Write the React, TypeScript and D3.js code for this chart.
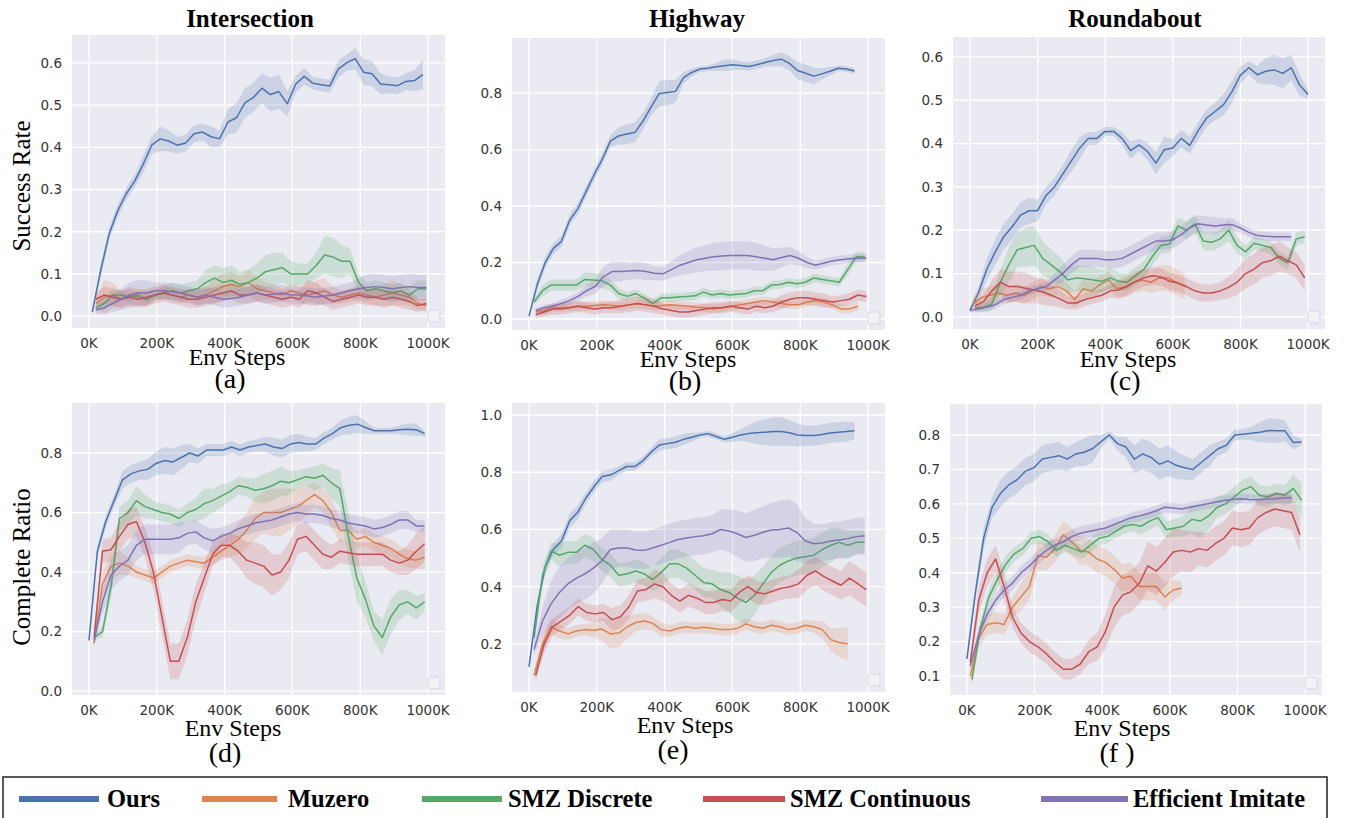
import React, { useEffect, useRef } from 'react';
import * as d3 from 'd3';

const methods = ['Ours', 'Muzero', 'SMZ Discrete', 'SMZ Continuous', 'Efficient Imitate'];
const colors = ['#4C72B0', '#DD8452', '#55A868', '#C44E52', '#8172B3'];
const xTicks = [0, 200, 400, 600, 800, 1000];
const xTickLabels = ['0K', '200K', '400K', '600K', '800K', '1000K'];

// ---- (a) Intersection, success rate ----
const aYTicks = [0, 0.1, 0.2, 0.3, 0.4, 0.5, 0.6];
const aOurs = [0.01, 0.11, 0.196, 0.25, 0.29, 0.32, 0.36, 0.405, 0.42, 0.415, 0.405, 0.41, 0.432, 0.436, 0.425, 0.42, 0.46, 0.47, 0.505, 0.518, 0.54, 0.525, 0.532, 0.503, 0.55, 0.568, 0.552, 0.548, 0.545, 0.585, 0.6, 0.61, 0.578, 0.574, 0.55, 0.548, 0.546, 0.556, 0.558, 0.572];
const aOursBand = [0.005, 0.015, 0.015, 0.015, 0.015, 0.015, 0.02, 0.02, 0.03, 0.025, 0.02, 0.02, 0.02, 0.02, 0.025, 0.02, 0.03, 0.035, 0.035, 0.035, 0.035, 0.04, 0.04, 0.03, 0.02, 0.02, 0.015, 0.015, 0.015, 0.02, 0.02, 0.025, 0.03, 0.03, 0.025, 0.02, 0.02, 0.02, 0.025, 0.035];
const aMuzero = [0.03, 0.045, 0.05, 0.04, 0.05, 0.045, 0.04, 0.05, 0.055, 0.05, 0.045, 0.05, 0.045, 0.05, 0.06, 0.07, 0.075, 0.07, 0.08, 0.065, 0.06, 0.055, 0.05, 0.06, 0.055, 0.05, 0.055, 0.06, 0.05, 0.045, 0.05, 0.055, 0.05, 0.045, 0.05, 0.055, 0.05, 0.045, 0.03, 0.025];
const aMuzeroBand = [0.01, 0.04, 0.03, 0.02, 0.02, 0.02, 0.02, 0.015, 0.015, 0.015, 0.015, 0.015, 0.02, 0.02, 0.03, 0.03, 0.03, 0.025, 0.03, 0.03, 0.02, 0.02, 0.015, 0.015, 0.02, 0.025, 0.03, 0.03, 0.02, 0.015, 0.015, 0.02, 0.02, 0.02, 0.025, 0.03, 0.025, 0.02, 0.015, 0.015];
const aDiscrete = [0.02, 0.03, 0.05, 0.05, 0.045, 0.05, 0.04, 0.05, 0.055, 0.06, 0.055, 0.06, 0.065, 0.08, 0.09, 0.08, 0.085, 0.075, 0.08, 0.09, 0.105, 0.11, 0.115, 0.1, 0.1, 0.1, 0.12, 0.145, 0.14, 0.13, 0.13, 0.08, 0.06, 0.065, 0.06, 0.055, 0.06, 0.05, 0.065, 0.065];
const aDiscreteBand = [0.01, 0.015, 0.015, 0.01, 0.01, 0.01, 0.01, 0.01, 0.015, 0.02, 0.02, 0.02, 0.02, 0.03, 0.03, 0.035, 0.035, 0.03, 0.03, 0.035, 0.04, 0.04, 0.035, 0.03, 0.025, 0.025, 0.03, 0.045, 0.045, 0.04, 0.03, 0.02, 0.02, 0.02, 0.02, 0.02, 0.02, 0.02, 0.02, 0.02];
const aContinuous = [0.04, 0.05, 0.045, 0.04, 0.045, 0.04, 0.045, 0.05, 0.055, 0.05, 0.045, 0.04, 0.04, 0.045, 0.05, 0.055, 0.06, 0.05, 0.05, 0.055, 0.05, 0.045, 0.04, 0.045, 0.04, 0.06, 0.055, 0.045, 0.035, 0.04, 0.045, 0.05, 0.045, 0.045, 0.04, 0.045, 0.04, 0.035, 0.025, 0.03];
const aContinuousBand = [0.015, 0.02, 0.02, 0.02, 0.02, 0.02, 0.02, 0.02, 0.02, 0.02, 0.02, 0.02, 0.02, 0.02, 0.02, 0.02, 0.02, 0.02, 0.02, 0.02, 0.02, 0.02, 0.02, 0.02, 0.02, 0.025, 0.025, 0.02, 0.02, 0.02, 0.02, 0.02, 0.02, 0.02, 0.02, 0.02, 0.02, 0.02, 0.015, 0.015];
const aImitate = [0.015, 0.02, 0.03, 0.04, 0.05, 0.055, 0.055, 0.06, 0.06, 0.058, 0.055, 0.05, 0.045, 0.05, 0.045, 0.04, 0.042, 0.045, 0.05, 0.055, 0.05, 0.052, 0.055, 0.05, 0.05, 0.048, 0.045, 0.048, 0.05, 0.055, 0.06, 0.065, 0.068, 0.07, 0.068, 0.065, 0.068, 0.07, 0.068, 0.068];
const aImitateBand = [0.01, 0.015, 0.02, 0.025, 0.03, 0.03, 0.03, 0.02, 0.02, 0.02, 0.02, 0.02, 0.02, 0.02, 0.02, 0.02, 0.02, 0.02, 0.02, 0.02, 0.02, 0.02, 0.02, 0.02, 0.02, 0.02, 0.02, 0.02, 0.02, 0.02, 0.02, 0.025, 0.03, 0.03, 0.03, 0.03, 0.03, 0.03, 0.03, 0.03];

// ---- (b) Highway, success rate ----
const bYTicks = [0, 0.2, 0.4, 0.6, 0.8];
const bOurs = [0.01, 0.12, 0.2, 0.25, 0.275, 0.35, 0.39, 0.45, 0.51, 0.565, 0.63, 0.648, 0.655, 0.66, 0.7, 0.75, 0.798, 0.802, 0.806, 0.855, 0.873, 0.885, 0.888, 0.893, 0.897, 0.9, 0.898, 0.894, 0.9, 0.908, 0.915, 0.92, 0.905, 0.88, 0.87, 0.86, 0.868, 0.877, 0.888, 0.885, 0.878];
const bOursBand = [0.005, 0.02, 0.02, 0.02, 0.02, 0.02, 0.02, 0.02, 0.02, 0.02, 0.02, 0.03, 0.035, 0.035, 0.03, 0.03, 0.045, 0.045, 0.04, 0.02, 0.015, 0.01, 0.01, 0.015, 0.02, 0.02, 0.015, 0.015, 0.015, 0.015, 0.02, 0.025, 0.025, 0.03, 0.03, 0.03, 0.02, 0.015, 0.01, 0.01, 0.01];
const bMuzero = [0.025, 0.03, 0.04, 0.04, 0.042, 0.045, 0.045, 0.048, 0.05, 0.048, 0.045, 0.05, 0.055, 0.05, 0.045, 0.048, 0.05, 0.048, 0.045, 0.042, 0.04, 0.035, 0.04, 0.045, 0.05, 0.055, 0.06, 0.065, 0.06, 0.055, 0.05, 0.05, 0.06, 0.065, 0.06, 0.05, 0.035, 0.035, 0.045];
const bMuzeroBand = [0.01, 0.015, 0.015, 0.015, 0.015, 0.015, 0.015, 0.015, 0.015, 0.015, 0.015, 0.015, 0.015, 0.015, 0.015, 0.015, 0.015, 0.015, 0.015, 0.015, 0.015, 0.015, 0.015, 0.015, 0.015, 0.015, 0.015, 0.015, 0.015, 0.015, 0.015, 0.015, 0.015, 0.015, 0.015, 0.015, 0.015, 0.015, 0.015];
const bDiscrete = [0.06, 0.1, 0.12, 0.12, 0.12, 0.12, 0.14, 0.138, 0.135, 0.12, 0.09, 0.08, 0.09, 0.075, 0.055, 0.075, 0.075, 0.078, 0.08, 0.082, 0.095, 0.085, 0.09, 0.085, 0.088, 0.09, 0.1, 0.1, 0.12, 0.122, 0.13, 0.125, 0.13, 0.145, 0.14, 0.135, 0.13, 0.175, 0.22, 0.22];
const bDiscreteBand = [0.01, 0.02, 0.02, 0.02, 0.02, 0.02, 0.025, 0.025, 0.025, 0.02, 0.02, 0.015, 0.015, 0.015, 0.015, 0.015, 0.015, 0.015, 0.015, 0.015, 0.015, 0.015, 0.015, 0.015, 0.015, 0.015, 0.015, 0.015, 0.015, 0.015, 0.015, 0.015, 0.015, 0.015, 0.015, 0.015, 0.015, 0.02, 0.02, 0.015];
const bContinuous = [0.015, 0.025, 0.035, 0.035, 0.04, 0.045, 0.04, 0.035, 0.04, 0.04, 0.045, 0.05, 0.055, 0.05, 0.045, 0.035, 0.03, 0.025, 0.025, 0.03, 0.035, 0.04, 0.04, 0.045, 0.04, 0.035, 0.045, 0.04, 0.045, 0.06, 0.07, 0.075, 0.075, 0.07, 0.065, 0.06, 0.065, 0.07, 0.085, 0.08];
const bContinuousBand = [0.01, 0.015, 0.02, 0.02, 0.02, 0.02, 0.02, 0.02, 0.02, 0.02, 0.025, 0.025, 0.025, 0.025, 0.025, 0.02, 0.02, 0.02, 0.02, 0.02, 0.02, 0.02, 0.02, 0.02, 0.02, 0.02, 0.02, 0.02, 0.02, 0.025, 0.025, 0.025, 0.025, 0.025, 0.025, 0.02, 0.02, 0.02, 0.02, 0.02];
const bImitate = [0.03, 0.04, 0.045, 0.055, 0.065, 0.08, 0.1, 0.115, 0.15, 0.168, 0.168, 0.17, 0.172, 0.168, 0.162, 0.16, 0.175, 0.19, 0.2, 0.21, 0.215, 0.22, 0.223, 0.225, 0.225, 0.225, 0.22, 0.215, 0.21, 0.218, 0.225, 0.215, 0.2, 0.19, 0.198, 0.205, 0.21, 0.213, 0.215, 0.215];
const bImitateBand = [0.01, 0.01, 0.01, 0.015, 0.015, 0.015, 0.02, 0.025, 0.035, 0.035, 0.035, 0.03, 0.03, 0.03, 0.025, 0.025, 0.03, 0.035, 0.04, 0.045, 0.045, 0.05, 0.05, 0.05, 0.05, 0.05, 0.05, 0.045, 0.04, 0.035, 0.03, 0.025, 0.02, 0.015, 0.015, 0.015, 0.015, 0.015, 0.015, 0.015];

// ---- (c) Roundabout, success rate ----
const cYTicks = [0, 0.1, 0.2, 0.3, 0.4, 0.5, 0.6];
const cOurs = [0.015, 0.055, 0.11, 0.15, 0.185, 0.208, 0.235, 0.245, 0.245, 0.28, 0.3, 0.33, 0.36, 0.39, 0.412, 0.412, 0.428, 0.428, 0.412, 0.384, 0.397, 0.382, 0.355, 0.386, 0.39, 0.412, 0.396, 0.43, 0.459, 0.474, 0.49, 0.52, 0.558, 0.575, 0.559, 0.567, 0.57, 0.562, 0.575, 0.535, 0.513];
const cOursBand = [0.005, 0.015, 0.025, 0.03, 0.03, 0.03, 0.03, 0.03, 0.025, 0.02, 0.02, 0.02, 0.025, 0.025, 0.015, 0.015, 0.01, 0.01, 0.015, 0.02, 0.015, 0.02, 0.025, 0.03, 0.02, 0.02, 0.02, 0.02, 0.02, 0.02, 0.025, 0.025, 0.02, 0.015, 0.02, 0.03, 0.035, 0.035, 0.03, 0.025, 0.01];
const cMuzero = [0.03, 0.045, 0.05, 0.055, 0.05, 0.055, 0.05, 0.06, 0.07, 0.065, 0.07, 0.06, 0.04, 0.065, 0.06, 0.075, 0.085, 0.065, 0.07, 0.08, 0.085, 0.08, 0.09, 0.09, 0.08, 0.07];
const cMuzeroBand = [0.015, 0.02, 0.02, 0.02, 0.02, 0.02, 0.02, 0.02, 0.02, 0.02, 0.02, 0.02, 0.02, 0.02, 0.02, 0.02, 0.02, 0.02, 0.025, 0.025, 0.025, 0.025, 0.03, 0.03, 0.03, 0.03];
const cDiscrete = [0.02, 0.022, 0.03, 0.08, 0.12, 0.155, 0.16, 0.165, 0.135, 0.12, 0.105, 0.085, 0.09, 0.088, 0.085, 0.082, 0.09, 0.082, 0.08, 0.095, 0.11, 0.14, 0.165, 0.168, 0.21, 0.2, 0.215, 0.175, 0.172, 0.18, 0.2, 0.165, 0.15, 0.17, 0.165, 0.16, 0.135, 0.125, 0.18, 0.185];
const cDiscreteBand = [0.01, 0.01, 0.015, 0.03, 0.04, 0.04, 0.045, 0.045, 0.04, 0.035, 0.035, 0.03, 0.03, 0.03, 0.03, 0.025, 0.025, 0.02, 0.02, 0.02, 0.02, 0.02, 0.02, 0.02, 0.02, 0.02, 0.02, 0.02, 0.02, 0.02, 0.025, 0.02, 0.015, 0.015, 0.015, 0.015, 0.015, 0.015, 0.015, 0.015];
const cContinuous = [0.025, 0.035, 0.06, 0.08, 0.07, 0.07, 0.066, 0.062, 0.058, 0.05, 0.042, 0.032, 0.032, 0.04, 0.045, 0.05, 0.06, 0.062, 0.07, 0.082, 0.09, 0.095, 0.092, 0.082, 0.078, 0.07, 0.06, 0.055, 0.055, 0.06, 0.068, 0.08, 0.1, 0.11, 0.125, 0.13, 0.14, 0.13, 0.12, 0.09];
const cContinuousBand = [0.01, 0.015, 0.025, 0.03, 0.035, 0.035, 0.035, 0.03, 0.03, 0.025, 0.02, 0.015, 0.015, 0.015, 0.015, 0.015, 0.015, 0.02, 0.02, 0.02, 0.02, 0.02, 0.02, 0.02, 0.02, 0.02, 0.02, 0.02, 0.02, 0.02, 0.025, 0.03, 0.035, 0.035, 0.035, 0.035, 0.035, 0.03, 0.03, 0.03];
const cImitate = [0.015, 0.018, 0.022, 0.028, 0.04, 0.045, 0.05, 0.06, 0.065, 0.07, 0.085, 0.1, 0.12, 0.135, 0.135, 0.135, 0.132, 0.132, 0.135, 0.145, 0.155, 0.165, 0.175, 0.175, 0.178, 0.19, 0.205, 0.215, 0.212, 0.21, 0.212, 0.213, 0.205, 0.195, 0.188, 0.186, 0.185, 0.185, 0.185];
const cImitateBand = [0.005, 0.005, 0.01, 0.01, 0.01, 0.01, 0.01, 0.01, 0.01, 0.01, 0.015, 0.02, 0.02, 0.02, 0.02, 0.02, 0.02, 0.02, 0.02, 0.02, 0.02, 0.02, 0.02, 0.02, 0.02, 0.02, 0.02, 0.02, 0.02, 0.02, 0.015, 0.015, 0.01, 0.01, 0.01, 0.01, 0.01, 0.01, 0.01];

// ---- (d) Intersection, complete ratio ----
const dYTicks = [0, 0.2, 0.4, 0.6, 0.8];
const dOurs = [0.17, 0.47, 0.57, 0.64, 0.71, 0.73, 0.74, 0.745, 0.765, 0.775, 0.77, 0.785, 0.8, 0.79, 0.81, 0.81, 0.81, 0.82, 0.81, 0.82, 0.825, 0.83, 0.82, 0.815, 0.83, 0.835, 0.83, 0.83, 0.85, 0.865, 0.885, 0.893, 0.897, 0.885, 0.875, 0.875, 0.875, 0.878, 0.88, 0.878, 0.865];
const dOursBand = [0.01, 0.02, 0.02, 0.02, 0.03, 0.03, 0.03, 0.035, 0.04, 0.045, 0.045, 0.04, 0.03, 0.025, 0.02, 0.02, 0.02, 0.02, 0.02, 0.02, 0.02, 0.025, 0.03, 0.03, 0.03, 0.03, 0.025, 0.02, 0.02, 0.02, 0.025, 0.03, 0.03, 0.02, 0.01, 0.01, 0.01, 0.015, 0.02, 0.02, 0.01];
const dMuzero = [0.16, 0.36, 0.42, 0.43, 0.42, 0.4, 0.39, 0.38, 0.4, 0.42, 0.43, 0.44, 0.435, 0.43, 0.45, 0.47, 0.49, 0.51, 0.54, 0.58, 0.6, 0.6, 0.6, 0.61, 0.62, 0.64, 0.66, 0.64, 0.6, 0.54, 0.54, 0.51, 0.52, 0.5, 0.49, 0.48, 0.46, 0.445, 0.44, 0.45];
const dMuzeroBand = [0.02, 0.04, 0.04, 0.04, 0.03, 0.02, 0.02, 0.02, 0.02, 0.02, 0.02, 0.02, 0.02, 0.02, 0.025, 0.03, 0.04, 0.05, 0.06, 0.07, 0.07, 0.08, 0.08, 0.07, 0.06, 0.05, 0.04, 0.04, 0.05, 0.04, 0.03, 0.03, 0.03, 0.03, 0.03, 0.03, 0.03, 0.03, 0.03, 0.04];
const dDiscrete = [0.18, 0.2, 0.35, 0.58, 0.6, 0.64, 0.62, 0.61, 0.6, 0.595, 0.58, 0.6, 0.61, 0.63, 0.64, 0.655, 0.67, 0.69, 0.685, 0.675, 0.68, 0.69, 0.705, 0.7, 0.71, 0.72, 0.715, 0.725, 0.7, 0.68, 0.52, 0.38, 0.31, 0.22, 0.18, 0.25, 0.29, 0.3, 0.28, 0.3];
const dDiscreteBand = [0.01, 0.02, 0.04, 0.04, 0.04, 0.05, 0.04, 0.03, 0.03, 0.03, 0.03, 0.03, 0.04, 0.05, 0.04, 0.04, 0.03, 0.03, 0.03, 0.04, 0.05, 0.05, 0.05, 0.04, 0.03, 0.03, 0.04, 0.04, 0.05, 0.06, 0.08, 0.08, 0.06, 0.05, 0.06, 0.06, 0.05, 0.04, 0.04, 0.03];
const dContinuous = [0.18, 0.47, 0.475, 0.52, 0.56, 0.57, 0.5, 0.4, 0.25, 0.1, 0.1, 0.18, 0.3, 0.38, 0.46, 0.49, 0.49, 0.47, 0.44, 0.43, 0.42, 0.39, 0.4, 0.44, 0.51, 0.52, 0.49, 0.46, 0.45, 0.47, 0.465, 0.46, 0.46, 0.46, 0.46, 0.44, 0.43, 0.44, 0.47, 0.495];
const dContinuousBand = [0.02, 0.04, 0.04, 0.05, 0.05, 0.05, 0.05, 0.06, 0.06, 0.06, 0.06, 0.06, 0.06, 0.05, 0.04, 0.04, 0.04, 0.05, 0.06, 0.07, 0.07, 0.07, 0.06, 0.06, 0.05, 0.05, 0.05, 0.05, 0.04, 0.04, 0.04, 0.04, 0.04, 0.04, 0.04, 0.04, 0.04, 0.05, 0.06, 0.06];
const dImitate = [0.17, 0.3, 0.39, 0.42, 0.44, 0.49, 0.51, 0.51, 0.51, 0.51, 0.515, 0.53, 0.535, 0.515, 0.505, 0.52, 0.53, 0.545, 0.555, 0.565, 0.57, 0.575, 0.585, 0.595, 0.6, 0.595, 0.595, 0.59, 0.58, 0.575, 0.565, 0.56, 0.555, 0.545, 0.55, 0.56, 0.575, 0.575, 0.555, 0.555];
const dImitateBand = [0.02, 0.04, 0.05, 0.05, 0.05, 0.05, 0.05, 0.05, 0.05, 0.05, 0.05, 0.04, 0.04, 0.04, 0.04, 0.03, 0.03, 0.03, 0.03, 0.03, 0.03, 0.03, 0.03, 0.03, 0.03, 0.03, 0.03, 0.03, 0.03, 0.03, 0.03, 0.03, 0.03, 0.03, 0.03, 0.03, 0.03, 0.03, 0.02, 0.02];

// ---- (e) Highway, complete ratio ----
const eYTicks = [0.2, 0.4, 0.6, 0.8, 1.0];
const eOurs = [0.12, 0.33, 0.47, 0.53, 0.56, 0.63, 0.66, 0.71, 0.75, 0.785, 0.79, 0.805, 0.82, 0.82, 0.84, 0.87, 0.895, 0.9, 0.905, 0.915, 0.922, 0.93, 0.935, 0.925, 0.915, 0.922, 0.93, 0.935, 0.938, 0.94, 0.942, 0.942, 0.938, 0.93, 0.928, 0.928, 0.932, 0.937, 0.94, 0.942, 0.945];
const eOursBand = [0.01, 0.02, 0.02, 0.02, 0.025, 0.025, 0.025, 0.02, 0.02, 0.02, 0.02, 0.015, 0.015, 0.015, 0.015, 0.015, 0.02, 0.02, 0.02, 0.02, 0.015, 0.01, 0.01, 0.01, 0.01, 0.015, 0.02, 0.03, 0.04, 0.045, 0.05, 0.05, 0.045, 0.04, 0.035, 0.035, 0.035, 0.035, 0.035, 0.035, 0.03];
const eMuzero = [0.09, 0.2, 0.26, 0.245, 0.235, 0.245, 0.25, 0.248, 0.252, 0.235, 0.238, 0.26, 0.275, 0.28, 0.272, 0.25, 0.245, 0.255, 0.26, 0.255, 0.258, 0.255, 0.25, 0.25, 0.255, 0.27, 0.26, 0.255, 0.265, 0.26, 0.25, 0.255, 0.265, 0.26, 0.25, 0.215, 0.205, 0.2];
const eMuzeroBand = [0.02, 0.03, 0.03, 0.025, 0.02, 0.02, 0.02, 0.025, 0.04, 0.05, 0.05, 0.04, 0.03, 0.03, 0.025, 0.025, 0.02, 0.02, 0.02, 0.02, 0.02, 0.02, 0.02, 0.02, 0.02, 0.02, 0.02, 0.02, 0.02, 0.02, 0.02, 0.02, 0.02, 0.02, 0.03, 0.04, 0.05, 0.06];
const eDiscrete = [0.22, 0.44, 0.525, 0.51, 0.52, 0.52, 0.545, 0.53, 0.495, 0.475, 0.44, 0.445, 0.455, 0.445, 0.425, 0.45, 0.48, 0.48, 0.465, 0.44, 0.415, 0.41, 0.39, 0.38, 0.36, 0.345, 0.37, 0.41, 0.45, 0.475, 0.49, 0.5, 0.505, 0.51, 0.53, 0.545, 0.555, 0.545, 0.555, 0.555];
const eDiscreteBand = [0.02, 0.03, 0.03, 0.04, 0.04, 0.04, 0.04, 0.04, 0.04, 0.04, 0.04, 0.04, 0.04, 0.04, 0.04, 0.05, 0.05, 0.05, 0.05, 0.05, 0.05, 0.05, 0.06, 0.07, 0.08, 0.08, 0.07, 0.06, 0.06, 0.06, 0.06, 0.06, 0.06, 0.06, 0.06, 0.06, 0.05, 0.05, 0.04, 0.04];
const eContinuous = [0.09, 0.2, 0.26, 0.28, 0.3, 0.33, 0.31, 0.305, 0.31, 0.285, 0.295, 0.33, 0.385, 0.39, 0.41, 0.4, 0.37, 0.35, 0.37, 0.36, 0.345, 0.345, 0.355, 0.35, 0.38, 0.4, 0.38, 0.375, 0.385, 0.395, 0.4, 0.41, 0.44, 0.455, 0.435, 0.42, 0.405, 0.43, 0.41, 0.39];
const eContinuousBand = [0.02, 0.03, 0.03, 0.03, 0.03, 0.03, 0.03, 0.03, 0.03, 0.04, 0.04, 0.04, 0.04, 0.04, 0.05, 0.05, 0.04, 0.04, 0.04, 0.04, 0.04, 0.04, 0.04, 0.04, 0.04, 0.04, 0.04, 0.04, 0.04, 0.04, 0.04, 0.05, 0.05, 0.05, 0.05, 0.05, 0.05, 0.06, 0.06, 0.06];
const eImitate = [0.18, 0.28, 0.34, 0.38, 0.41, 0.43, 0.445, 0.465, 0.49, 0.53, 0.535, 0.535, 0.528, 0.527, 0.535, 0.545, 0.555, 0.565, 0.57, 0.575, 0.578, 0.585, 0.6, 0.595, 0.585, 0.572, 0.58, 0.59, 0.598, 0.6, 0.605, 0.59, 0.56, 0.55, 0.553, 0.56, 0.563, 0.568, 0.575, 0.578];
const eImitateBand = [0.02, 0.05, 0.08, 0.09, 0.09, 0.09, 0.09, 0.09, 0.08, 0.07, 0.065, 0.065, 0.065, 0.065, 0.065, 0.065, 0.065, 0.065, 0.065, 0.065, 0.065, 0.065, 0.07, 0.075, 0.08, 0.085, 0.09, 0.09, 0.095, 0.1, 0.1, 0.1, 0.08, 0.07, 0.065, 0.065, 0.065, 0.065, 0.065, 0.065];

// ---- (f) Roundabout, complete ratio ----
const fYTicks = [0.1, 0.2, 0.3, 0.4, 0.5, 0.6, 0.7, 0.8];
const fOurs = [0.15, 0.34, 0.5, 0.59, 0.63, 0.655, 0.67, 0.695, 0.705, 0.73, 0.735, 0.74, 0.73, 0.745, 0.75, 0.76, 0.78, 0.8, 0.775, 0.765, 0.73, 0.745, 0.735, 0.715, 0.725, 0.712, 0.705, 0.7, 0.72, 0.74, 0.76, 0.77, 0.8, 0.802, 0.805, 0.808, 0.813, 0.812, 0.812, 0.778, 0.78];
const fOursBand = [0.01, 0.02, 0.03, 0.03, 0.04, 0.04, 0.04, 0.04, 0.04, 0.04, 0.04, 0.04, 0.035, 0.035, 0.04, 0.04, 0.02, 0.01, 0.02, 0.03, 0.04, 0.045, 0.045, 0.045, 0.045, 0.04, 0.035, 0.03, 0.03, 0.03, 0.02, 0.02, 0.015, 0.015, 0.02, 0.03, 0.035, 0.035, 0.03, 0.02, 0.01];
const fMuzero = [0.1, 0.21, 0.25, 0.255, 0.25, 0.3, 0.33, 0.36, 0.45, 0.445, 0.47, 0.51, 0.49, 0.465, 0.46, 0.44, 0.43, 0.41, 0.385, 0.39, 0.36, 0.36, 0.36, 0.33, 0.35, 0.355];
const fMuzeroBand = [0.02, 0.03, 0.03, 0.03, 0.03, 0.03, 0.04, 0.04, 0.04, 0.04, 0.04, 0.04, 0.04, 0.04, 0.04, 0.04, 0.04, 0.04, 0.04, 0.04, 0.04, 0.04, 0.04, 0.04, 0.03, 0.02];
const fDiscrete = [0.09, 0.24, 0.33, 0.38, 0.425, 0.455, 0.47, 0.5, 0.505, 0.49, 0.465, 0.48, 0.47, 0.46, 0.48, 0.5, 0.505, 0.52, 0.535, 0.54, 0.535, 0.55, 0.56, 0.525, 0.53, 0.535, 0.555, 0.55, 0.565, 0.59, 0.6, 0.62, 0.64, 0.65, 0.625, 0.62, 0.63, 0.625, 0.645, 0.61];
const fDiscreteBand = [0.02, 0.02, 0.025, 0.025, 0.025, 0.02, 0.02, 0.02, 0.02, 0.02, 0.02, 0.02, 0.02, 0.02, 0.02, 0.02, 0.02, 0.02, 0.02, 0.02, 0.025, 0.025, 0.025, 0.025, 0.025, 0.03, 0.04, 0.05, 0.04, 0.03, 0.03, 0.03, 0.03, 0.03, 0.03, 0.03, 0.03, 0.03, 0.04, 0.05];
const fContinuous = [0.14, 0.32, 0.4, 0.44, 0.36, 0.27, 0.225, 0.2, 0.185, 0.165, 0.14, 0.12, 0.12, 0.135, 0.17, 0.185, 0.23, 0.3, 0.335, 0.345, 0.37, 0.42, 0.405, 0.43, 0.46, 0.465, 0.46, 0.47, 0.465, 0.485, 0.5, 0.53, 0.525, 0.53, 0.56, 0.575, 0.585, 0.58, 0.575, 0.51];
const fContinuousBand = [0.02, 0.04, 0.04, 0.04, 0.04, 0.03, 0.03, 0.03, 0.03, 0.03, 0.03, 0.03, 0.03, 0.03, 0.035, 0.04, 0.05, 0.06, 0.06, 0.06, 0.06, 0.07, 0.07, 0.07, 0.07, 0.06, 0.06, 0.05, 0.05, 0.05, 0.05, 0.05, 0.05, 0.05, 0.05, 0.05, 0.05, 0.05, 0.05, 0.05];
const fImitate = [0.13, 0.22, 0.28, 0.32, 0.35, 0.37, 0.4, 0.42, 0.445, 0.465, 0.48, 0.49, 0.505, 0.515, 0.52, 0.525, 0.53, 0.54, 0.55, 0.56, 0.565, 0.572, 0.58, 0.59, 0.588, 0.585, 0.59, 0.595, 0.6, 0.605, 0.61, 0.613, 0.615, 0.613, 0.612, 0.614, 0.615, 0.617, 0.618];
const fImitateBand = [0.01, 0.02, 0.02, 0.02, 0.02, 0.02, 0.02, 0.02, 0.02, 0.02, 0.02, 0.02, 0.02, 0.02, 0.02, 0.02, 0.02, 0.02, 0.015, 0.015, 0.015, 0.015, 0.015, 0.015, 0.015, 0.015, 0.015, 0.015, 0.015, 0.015, 0.015, 0.015, 0.015, 0.015, 0.015, 0.015, 0.015, 0.015, 0.02];

// [first step (K), step spacing (K), mean, band half-width] in legend order
const panels = [
  {
    title: 'Intersection', ylabel: 'Success Rate', sub: '(a)', yTicks: aYTicks, yDomain: [-0.028, 0.666],
    frame: [72, 35, 445, 328], titleX: 250, envX: 237, envY: 365, subX: 230, subY: 388, ylabelY: 186,
    series: [[10, 25, aOurs, aOursBand], [20, 25, aMuzero, aMuzeroBand], [20, 25, aDiscrete, aDiscreteBand], [20, 25, aContinuous, aContinuousBand], [20, 25, aImitate, aImitateBand]],
  },
  {
    title: 'Highway', ylabel: '', sub: '(b)', yTicks: bYTicks, yDomain: [-0.039, 0.995],
    frame: [512, 38, 885, 330], titleX: 697, envX: 688, envY: 367, subX: 685, subY: 390, ylabelY: 0,
    series: [[0, 24, bOurs, bOursBand], [20, 25, bMuzero, bMuzeroBand], [15, 25, bDiscrete, bDiscreteBand], [20, 25, bContinuous, bContinuousBand], [20, 25, bImitate, bImitateBand]],
  },
  {
    title: 'Roundabout', ylabel: '', sub: '(c)', yTicks: cYTicks, yDomain: [-0.028, 0.646],
    frame: [953, 37, 1325, 329], titleX: 1135, envX: 1128, envY: 367, subX: 1125, subY: 390, ylabelY: 0,
    series: [[0, 25, cOurs, cOursBand], [10, 25, cMuzero, cMuzeroBand], [15, 25, cDiscrete, cDiscreteBand], [15, 25, cContinuous, cContinuousBand], [0, 25, cImitate, cImitateBand]],
  },
  {
    title: '', ylabel: 'Complete Ratio', sub: '(d)', yTicks: dYTicks, yDomain: [-0.013, 0.968],
    frame: [72, 403, 445, 695], titleX: 250, envX: 233, envY: 736, subX: 225, subY: 762, ylabelY: 567,
    series: [[0, 24.75, dOurs, dOursBand], [15, 25, dMuzero, dMuzeroBand], [15, 25, dDiscrete, dDiscreteBand], [15, 25, dContinuous, dContinuousBand], [15, 25, dImitate, dImitateBand]],
  },
  {
    title: '', ylabel: '', sub: '(e)', yTicks: eYTicks, yDomain: [0.032, 1.042],
    frame: [512, 403, 885, 692], titleX: 697, envX: 685, envY: 733, subX: 673, subY: 759, ylabelY: 0,
    series: [[0, 24, eOurs, eOursBand], [15, 25, eMuzero, eMuzeroBand], [15, 25, eDiscrete, eDiscreteBand], [20, 25, eContinuous, eContinuousBand], [15, 25, eImitate, eImitateBand]],
  },
  {
    title: '', ylabel: '', sub: '(f )', yTicks: fYTicks, yDomain: [0.045, 0.89],
    frame: [950, 404, 1322, 695], titleX: 1135, envX: 1122, envY: 736, subX: 1117, subY: 762, ylabelY: 0,
    series: [[0, 24.75, fOurs, fOursBand], [10, 25, fMuzero, fMuzeroBand], [15, 25, fDiscrete, fDiscreteBand], [10, 25, fContinuous, fContinuousBand], [10, 25, fImitate, fImitateBand]],
  },
];

const legendLayout = [
  { x1: 19, x2: 99, tx: 107 },
  { x1: 202, x2: 277, tx: 288 },
  { x1: 422, x2: 502, tx: 508 },
  { x1: 703, x2: 785, tx: 790 },
  { x1: 1041, x2: 1128, tx: 1133 },
];

const SERIF = '"Liberation Serif", "Times New Roman", serif';
const SANS = '"DejaVu Sans", sans-serif';

export default function App() {
  const svgRef = useRef<SVGSVGElement>(null);

  useEffect(() => {
    if (!svgRef.current) return;
    const svg = d3.select(svgRef.current);
    svg.selectAll('*').remove();

    svg.append('rect').attr('width', 1346).attr('height', 818).attr('fill', '#ffffff');

    panels.forEach((p) => {
      const [left, top, right, bottom] = p.frame;
      const x = d3.scaleLinear().domain([-50, 1050]).range([left, right]);
      const y = d3.scaleLinear().domain(p.yDomain).range([bottom, top]);
      const g = svg.append('g');

      // background + grid
      g.append('rect')
        .attr('x', left).attr('y', top)
        .attr('width', right - left).attr('height', bottom - top)
        .attr('fill', '#EAEAF2');

      g.selectAll('.hgrid')
        .data(p.yTicks)
        .enter()
        .append('line')
        .attr('x1', left).attr('x2', right)
        .attr('y1', (d) => y(d)).attr('y2', (d) => y(d))
        .attr('stroke', '#ffffff').attr('stroke-width', 1.3);

      g.selectAll('.vgrid')
        .data(xTicks)
        .enter()
        .append('line')
        .attr('x1', (d) => x(d)).attr('x2', (d) => x(d))
        .attr('y1', top).attr('y2', bottom)
        .attr('stroke', '#ffffff').attr('stroke-width', 1.3);

      // tick labels
      g.selectAll('.ylab')
        .data(p.yTicks)
        .enter()
        .append('text')
        .attr('x', left - 10)
        .attr('y', (d) => y(d))
        .attr('dy', '0.36em')
        .attr('text-anchor', 'end')
        .style('font-family', SANS)
        .style('font-size', '13.5px')
        .style('fill', '#333')
        .text((d) => d.toFixed(1));

      g.selectAll('.xlab')
        .data(xTicks)
        .enter()
        .append('text')
        .attr('x', (d) => x(d))
        .attr('y', bottom + 20)
        .attr('text-anchor', 'middle')
        .style('font-family', SANS)
        .style('font-size', '13.5px')
        .style('fill', '#333')
        .text((d, i) => xTickLabels[i]);

      // bands then lines
      p.series.forEach((s: any, k) => {
        const [start, step, mean, band] = s;
        const pts = mean.map((m: number, i: number) => ({
          x: start + i * step,
          m,
          b: band[i] ?? band[band.length - 1],
        }));
        const area = d3.area<any>()
          .x((d) => x(d.x))
          .y0((d) => y(d.m - d.b))
          .y1((d) => y(d.m + d.b));
        const line = d3.line<any>()
          .x((d) => x(d.x))
          .y((d) => y(d.m));
        g.append('path')
          .datum(pts)
          .attr('d', area)
          .attr('fill', colors[k])
          .attr('fill-opacity', 0.2)
          .attr('stroke', 'none');
        g.append('path')
          .datum(pts)
          .attr('d', line)
          .attr('fill', 'none')
          .attr('stroke', colors[k])
          .attr('stroke-width', 1.5)
          .attr('stroke-linejoin', 'round');
      });

      // empty legend box that matplotlib left behind
      g.append('rect')
        .attr('x', right - 17).attr('y', bottom - 18)
        .attr('width', 12).attr('height', 12).attr('rx', 2)
        .attr('fill', '#f2f2f7').attr('stroke', '#d6d6de').attr('stroke-width', 1);

      if (p.title) {
        g.append('text')
          .attr('x', p.titleX).attr('y', 27)
          .attr('text-anchor', 'middle')
          .style('font-family', SERIF).style('font-weight', 'bold').style('font-size', '25px')
          .style('fill', '#000')
          .text(p.title);
      }

      g.append('text')
        .attr('x', p.envX).attr('y', p.envY)
        .attr('text-anchor', 'middle')
        .style('font-family', SERIF).style('font-size', '24px').style('fill', '#000')
        .text('Env Steps');

      g.append('text')
        .attr('x', p.subX).attr('y', p.subY)
        .attr('text-anchor', 'middle')
        .style('font-family', SERIF).style('font-size', '28px').style('fill', '#000')
        .text(p.sub);

      if (p.ylabel) {
        g.append('text')
          .attr('transform', `translate(30,${p.ylabelY}) rotate(-90)`)
          .attr('text-anchor', 'middle')
          .style('font-family', SERIF).style('font-size', '25px').style('fill', '#000')
          .text(p.ylabel);
      }
    });

    // legend
    const lg = svg.append('g');
    lg.append('path')
      .attr('d', 'M3,818 L3,777 L1327,777 L1327,818')
      .attr('fill', 'none')
      .attr('stroke', '#222')
      .attr('stroke-width', 1.5);

    methods.forEach((m, i) => {
      const l = legendLayout[i];
      lg.append('line')
        .attr('x1', l.x1).attr('x2', l.x2)
        .attr('y1', 799).attr('y2', 799)
        .attr('stroke', colors[i]).attr('stroke-width', 6);
      lg.append('text')
        .attr('x', l.tx).attr('y', 807)
        .style('font-family', SERIF).style('font-weight', 'bold').style('font-size', '24.5px')
        .style('fill', '#000')
        .text(m);
    });
  }, []);

  return (
    <svg
      ref={svgRef}
      width={1346}
      height={818}
      style={{ position: 'absolute', left: 0, top: 0, display: 'block' }}
    ></svg>
  );
}
